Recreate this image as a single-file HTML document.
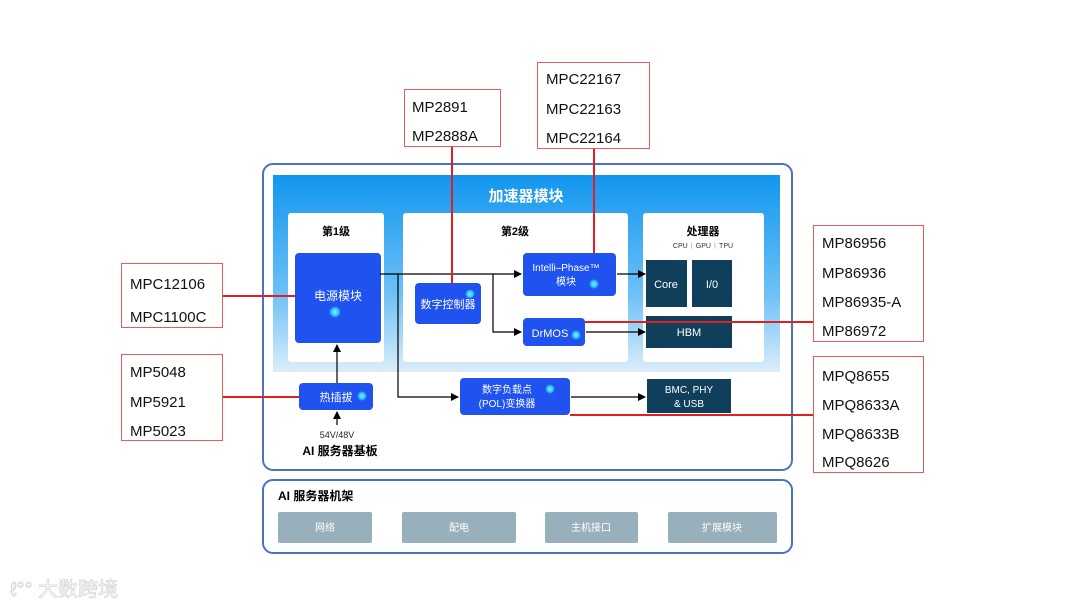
<!DOCTYPE html>
<html><head><meta charset="utf-8"><style>
html,body{margin:0;padding:0;background:#fff;}
svg{display:block;font-family:"Liberation Sans","Noto Sans CJK SC",sans-serif;}
.w{fill:#fff}
</style></head><body>
<svg width="1080" height="608" viewBox="0 0 1080 608" xmlns="http://www.w3.org/2000/svg">
<defs>
<linearGradient id="g" x1="0" y1="0" x2="0" y2="1">
<stop offset="0" stop-color="#1296ef"/><stop offset="0.6" stop-color="#6cc0f6"/><stop offset="1" stop-color="#dcedfb"/>
</linearGradient>
<radialGradient id="dot"><stop offset="0" stop-color="#7ff0ff"/><stop offset="0.6" stop-color="#2fc8ff"/><stop offset="1" stop-color="#2fc8ff" stop-opacity="0"/></radialGradient>
<marker id="a" markerWidth="8" markerHeight="8" refX="7" refY="4" orient="auto" markerUnits="userSpaceOnUse"><path d="M0,0 L8,4 L0,8 z" fill="#000"/></marker>
</defs>
<rect x="263" y="164" width="529" height="306" rx="10" fill="#fff" stroke="#4a72c0" stroke-width="2"/>
<rect x="273" y="175" width="507" height="197" fill="url(#g)"/>
<text x="526" y="201" text-anchor="middle" fill="#fff" font-size="15" font-weight="bold">加速器模块</text>
<rect x="288" y="213" width="96" height="149" rx="3" class="w"/>
<rect x="403" y="213" width="225" height="149" rx="3" class="w"/>
<rect x="643" y="213" width="121" height="149" rx="3" class="w"/>
<text x="336" y="235" text-anchor="middle" font-size="11" font-weight="bold">第1级</text>
<text x="515" y="235" text-anchor="middle" font-size="11" font-weight="bold">第2级</text>
<text x="703" y="235" text-anchor="middle" font-size="11" font-weight="bold">处理器</text>
<text x="703" y="248" text-anchor="middle" font-size="7" fill="#333">CPU  ᛁ  GPU  ᛁ  TPU</text>
<rect x="295" y="253" width="86" height="90" rx="4" fill="#1f52ee"/>
<text x="338" y="300" text-anchor="middle" fill="#fff" font-size="12">电源模块</text>
<circle cx="335" cy="312" r="6" fill="url(#dot)"/>
<rect x="415" y="283" width="66" height="41" rx="4" fill="#1f52ee"/>
<text x="448" y="308" text-anchor="middle" fill="#fff" font-size="11">数字控制器</text>
<circle cx="470" cy="294" r="5" fill="url(#dot)"/>
<rect x="523" y="253" width="93" height="43" rx="4" fill="#1f52ee"/>
<text x="566" y="271" text-anchor="middle" fill="#fff" font-size="10">Intelli–Phase™</text>
<text x="566" y="285" text-anchor="middle" fill="#fff" font-size="10">模块</text>
<circle cx="594" cy="284" r="5" fill="url(#dot)"/>
<rect x="523" y="318" width="62" height="28" rx="4" fill="#1f52ee"/>
<text x="550" y="337" text-anchor="middle" fill="#fff" font-size="11">DrMOS</text>
<circle cx="576" cy="335" r="5" fill="url(#dot)"/>
<rect x="299" y="383" width="74" height="27" rx="4" fill="#1f52ee"/>
<text x="336" y="401" text-anchor="middle" fill="#fff" font-size="11">热插拔</text>
<circle cx="362" cy="396" r="5" fill="url(#dot)"/>
<rect x="460" y="378" width="110" height="37" rx="4" fill="#1f52ee"/>
<text x="507" y="393" text-anchor="middle" fill="#fff" font-size="10">数字负载点</text>
<text x="507" y="407" text-anchor="middle" fill="#fff" font-size="10">(POL)变换器</text>
<circle cx="550" cy="389" r="5" fill="url(#dot)"/>
<rect x="646" y="260" width="41" height="47" fill="#0f3f5a"/>
<text x="666" y="288" text-anchor="middle" fill="#fff" font-size="11">Core</text>
<rect x="692" y="260" width="40" height="47" fill="#0f3f5a"/>
<text x="712" y="288" text-anchor="middle" fill="#fff" font-size="11">I/0</text>
<rect x="646" y="316" width="86" height="32" fill="#0f3f5a"/>
<text x="689" y="336" text-anchor="middle" fill="#fff" font-size="11">HBM</text>
<rect x="647" y="379" width="84" height="34" fill="#0f3f5a"/>
<text x="689" y="393" text-anchor="middle" fill="#fff" font-size="10">BMC, PHY</text>
<text x="689" y="407" text-anchor="middle" fill="#fff" font-size="10">&amp; USB</text>
<g stroke="#000" stroke-width="1.2" fill="none">
<path d="M380,274 H521" marker-end="url(#a)"/>
<path d="M398,274 V397 H458" marker-end="url(#a)"/>
<path d="M493,274 V332 H521" marker-end="url(#a)"/>
<path d="M617,274 H645" marker-end="url(#a)"/>
<path d="M586,332 H645" marker-end="url(#a)"/>
<path d="M571,397 H645" marker-end="url(#a)"/>
<path d="M337,383 V345" marker-end="url(#a)"/>
<path d="M337,425 V412" marker-end="url(#a)"/>
</g>
<text x="337" y="438" text-anchor="middle" font-size="9" fill="#222">54V/48V</text>
<text x="340" y="455" text-anchor="middle" font-size="12" font-weight="bold">AI 服务器基板</text>
<rect x="263" y="480" width="529" height="73" rx="10" fill="#fff" stroke="#4a72c0" stroke-width="2"/>
<text x="278" y="500" font-size="12" font-weight="bold">AI 服务器机架</text>
<rect x="278" y="512" width="94" height="31" rx="2" fill="#98afbc"/>
<rect x="402" y="512" width="114" height="31" rx="2" fill="#98afbc"/>
<rect x="545" y="512" width="93" height="31" rx="2" fill="#98afbc"/>
<rect x="668" y="512" width="109" height="31" rx="2" fill="#98afbc"/>
<g fill="#fff" font-size="10" text-anchor="middle">
<text x="325" y="531">网络</text><text x="459" y="531">配电</text><text x="591" y="531">主机接口</text><text x="722" y="531">扩展模块</text>
</g>
<g stroke="#e02020" stroke-width="2" fill="none">
<path d="M222,296 H295"/><path d="M222,397 H299"/>
<path d="M452,146 V283"/><path d="M594,148 V253"/>
<path d="M585,322 H813"/><path d="M570,415 H813"/>
</g>
<g fill="#fff" stroke="#e85c5c" stroke-width="1">
<rect x="404.5" y="89.5" width="96" height="57"/>
<rect x="537.5" y="62.5" width="112" height="86"/>
<rect x="813.5" y="225.5" width="110" height="116"/>
<rect x="813.5" y="356.5" width="110" height="116"/>
<rect x="121.5" y="263.5" width="101" height="64"/>
<rect x="121.5" y="354.5" width="101" height="86"/>
</g>
<g font-size="15" fill="#111">
<text x="412" y="112">MP2891</text><text x="412" y="141">MP2888A</text>
<text x="546" y="84">MPC22167</text><text x="546" y="114">MPC22163</text><text x="546" y="143">MPC22164</text>
<text x="822" y="248">MP86956</text><text x="822" y="278">MP86936</text><text x="822" y="307">MP86935-A</text><text x="822" y="336">MP86972</text>
<text x="822" y="381">MPQ8655</text><text x="822" y="410">MPQ8633A</text><text x="822" y="439">MPQ8633B</text><text x="822" y="467">MPQ8626</text>
<text x="130" y="289">MPC12106</text><text x="130" y="322">MPC1100C</text>
<text x="130" y="377">MP5048</text><text x="130" y="407">MP5921</text><text x="130" y="436">MP5023</text>
</g>
<text x="10" y="596" font-size="20" fill="#fff" stroke="#d8d8d8" stroke-width="0.8">ℓ°° 大数跨境</text>
</svg>
</body></html>
